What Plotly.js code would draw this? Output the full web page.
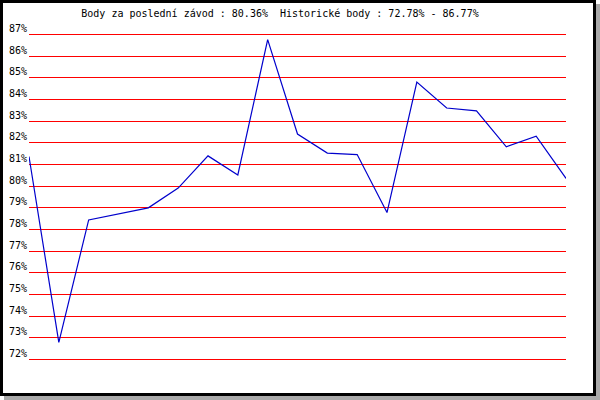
<!DOCTYPE html>
<html>
<head>
<meta charset="utf-8">
<script src="https://cdn.plot.ly/plotly-3.0.1.min.js"></script>
<style>
  html, body { margin: 0; padding: 0; background: #fff; }
  #frame { position: absolute; left: 0; top: 0; width: 590px; height: 390px;
           border: 3px solid #000; background: #fff; box-shadow: 4px 4px 0 #a9a9a9; }
  #chart { position: absolute; left: 0; top: 0; width: 600px; height: 400px; }
</style>
</head>
<body>
<div id="frame"></div>
<div id="chart"></div>
<script>
// Race index (0..18) and points percentage per race
const races = [0, 1, 2, 3, 4, 5, 6, 7, 8, 9, 10, 11, 12, 13, 14, 15, 16, 17, 18];
const points = [81.37, 72.78, 78.44, 78.73, 79.0, 79.91, 81.4, 80.52, 86.77, 82.41,
                81.53, 81.46, 78.78, 84.81, 83.61, 83.48, 81.82, 82.31, 80.36];
const tickValues = [72, 73, 74, 75, 76, 77, 78, 79, 80, 81, 82, 83, 84, 85, 86, 87];
const tickLabels = tickValues.map(v => v + '%');
const titleText = 'Body za posledn\u00ed z\u00e1vod : 80.36%\u00a0\u00a0Historick\u00e9 body : 72.78% - 86.77%';

const font = 'DejaVu Sans Mono, monospace';

Plotly.newPlot('chart', [{
  x: races,
  y: points,
  type: 'scatter',
  mode: 'lines',
  line: { color: '#0000cc', width: 1.2 },
  hoverinfo: 'none'
}], {
  width: 600,
  height: 400,
  margin: { l: 29, r: 34, t: 13.4, b: 19.1, pad: 0 },
  paper_bgcolor: 'rgba(0,0,0,0)',
  plot_bgcolor: 'rgba(0,0,0,0)',
  showlegend: false,
  title: {
    text: titleText,
    font: { family: font, size: 10, color: '#000' },
    xref: 'container', yref: 'container',
    x: 280 / 600, xanchor: 'center',
    y: 1 - 13.5 / 400, yanchor: 'middle'
  },
  xaxis: {
    range: [0, 18],
    showgrid: false, zeroline: false, showline: false,
    showticklabels: false, ticks: ''
  },
  yaxis: {
    range: [71, 88],
    tickmode: 'array',
    tickvals: tickValues,
    ticktext: tickLabels,
    showgrid: true,
    gridcolor: '#ff0000',
    gridwidth: 1,
    zeroline: false, showline: false, ticks: '',
    ticklabelshift: -6,
    ticklabelstandoff: 1,
    tickfont: { family: font, size: 10, color: '#000' }
  }
}, { staticPlot: true, displayModeBar: false });
</script>
</body>
</html>
